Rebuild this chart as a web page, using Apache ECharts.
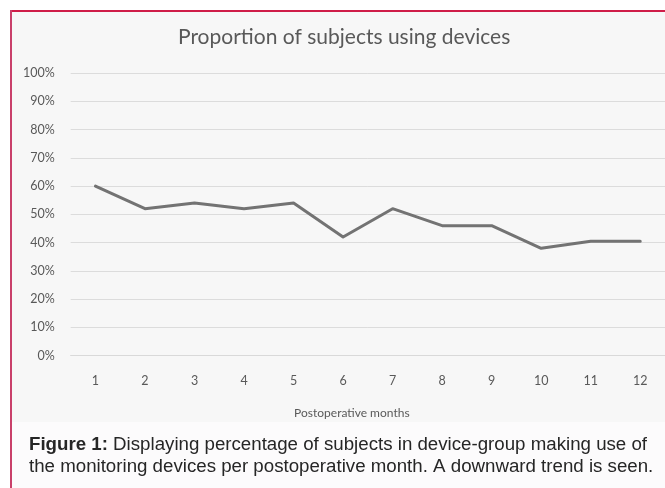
<!DOCTYPE html>
<html>
<head>
<meta charset="utf-8">
<script src="https://cdn.jsdelivr.net/npm/echarts@6/dist/echarts.min.js"></script>
<style>
  html, body { margin: 0; padding: 0; background: #ffffff; }
  #chart { width: 665px; height: 488px; }
</style>
</head>
<body>
<div id="chart"></div>
<script>
// Postoperative month vs. share of device-group subjects using the devices
const months = ['1', '2', '3', '4', '5', '6', '7', '8', '9', '10', '11', '12'];
const usage = [0.60, 0.52, 0.54, 0.52, 0.54, 0.42, 0.52, 0.46, 0.46, 0.38, 0.405, 0.405];
const chartTitle = 'Proportion of subjects using devices';
const xAxisTitle = 'Postoperative months';
const captionLead = 'Figure 1:';
const captionLine1 = ' Displaying percentage of subjects in device-group making use of';
const captionLine2 = 'the monitoring devices per postoperative month. A downward trend is seen.';

const chart = echarts.init(document.getElementById('chart'), null, { renderer: 'canvas' });

const labelFont = 'Lato, "Open Sans", sans-serif';
const captionFont = '"Liberation Sans", Arial, sans-serif';

chart.setOption({
  backgroundColor: '#ffffff',
  animation: false,
  graphic: [
    // chart panel background
    { type: 'rect', z: -10, shape: { x: 12, y: 11, width: 660, height: 411 }, style: { fill: '#f7f7f7' } },
    // caption panel background
    { type: 'rect', z: -10, shape: { x: 12, y: 422, width: 660, height: 70 }, style: { fill: '#fcfbfc' } },
    // frame lines
    { type: 'rect', z: 10, shape: { x: 10, y: 10, width: 660, height: 2 }, style: { fill: '#cf1d48' } },
    { type: 'rect', z: 10, shape: { x: 10, y: 10, width: 2, height: 480 }, style: { fill: '#c9406a' } },
    // caption
    {
      type: 'text', left: 29, top: 434,
      style: {
        text: '{b|' + captionLead + '}' + captionLine1 + '\n' + captionLine2,
        font: '18.7px ' + captionFont,
        fill: '#262626',
        lineHeight: 22,
        rich: {
          b: { fontWeight: 'bold', fontSize: 18.7, fontFamily: captionFont, fill: '#262626', lineHeight: 22 }
        }
      }
    }
  ],
  title: {
    text: chartTitle,
    left: 178,
    top: 27,
    padding: 0,
    textStyle: { fontFamily: labelFont, fontSize: 21, fontWeight: 'normal', color: '#595959' }
  },
  grid: { left: 70.7, width: 599.3, top: 73, height: 282.7, containLabel: false },
  xAxis: {
    type: 'category',
    data: months,
    boundaryGap: true,
    axisLine: { show: true, lineStyle: { color: '#d9d9d9', width: 1 } },
    axisTick: { show: false },
    axisLabel: { color: '#595959', fontFamily: labelFont, fontSize: 12.5, margin: 19 },
    name: xAxisTitle,
    nameLocation: 'middle',
    nameGap: 51,
    nameTextStyle: { color: '#595959', fontFamily: labelFont, fontSize: 12, padding: [0, 32, 0, 0] }
  },
  yAxis: {
    type: 'value',
    min: 0,
    max: 1,
    interval: 0.1,
    axisLine: { show: false },
    axisTick: { show: false },
    splitLine: { lineStyle: { color: '#dcdcdc', width: 1 } },
    axisLabel: {
      color: '#595959', fontFamily: labelFont, fontSize: 12.5, margin: 16,
      formatter: v => Math.round(v * 100) + '%'
    }
  },
  series: [{
    type: 'line',
    data: usage,
    showSymbol: false,
    symbol: 'none',
    lineStyle: { color: '#737373', width: 3, cap: 'round', join: 'round' }
  }]
});
</script>
</body>
</html>
